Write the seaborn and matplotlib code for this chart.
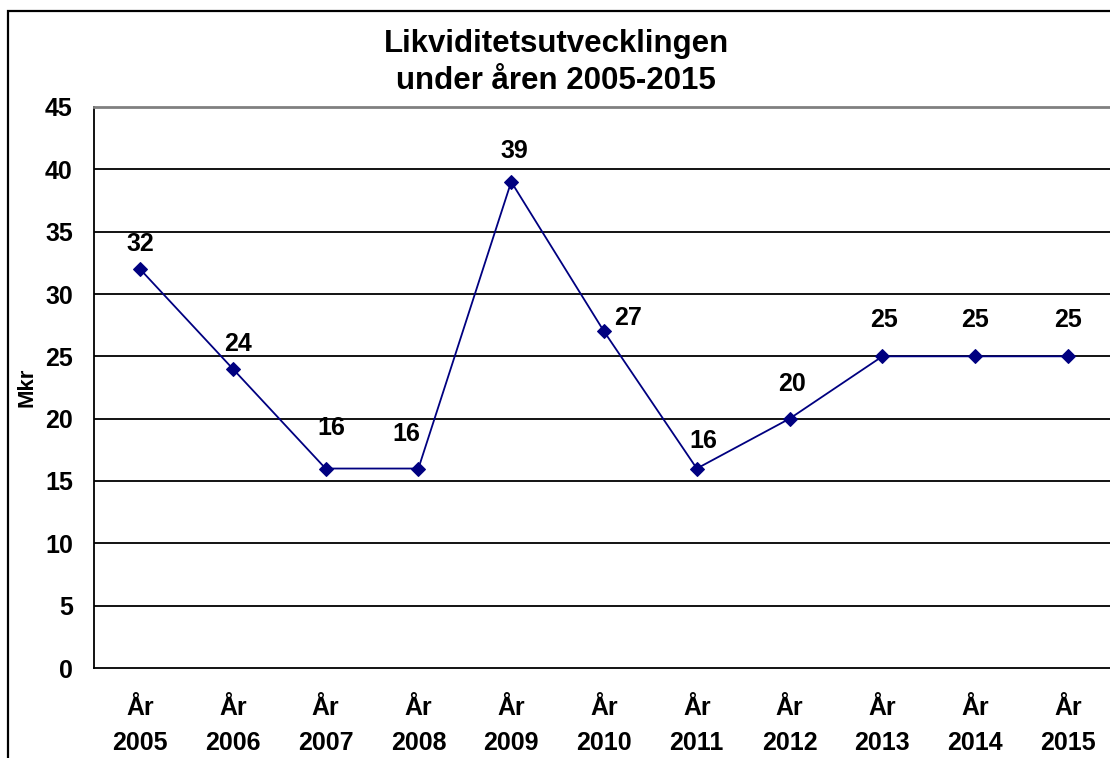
import matplotlib
matplotlib.use("Agg")
import matplotlib.pyplot as plt
import seaborn as sns
import pandas as pd
from matplotlib.patches import Rectangle
from matplotlib.ticker import FixedLocator

# data
years = ["2005", "2006", "2007", "2008", "2009", "2010", "2011", "2012", "2013", "2014", "2015"]
values = [32, 24, 16, 16, 39, 27, 16, 20, 25, 25, 25]
tick_labels = ["År\n" + y for y in years]
# where Excel put each data label, offset from the marker in points (dx, dy)
label_offsets = [(0, 18), (4, 18), (4, 29), (-9, 25), (2, 22), (17, 10), (5, 20), (2, 25), (1, 26), (0, 26), (0, 26)]

sns.set_style("white")
plt.rcParams["font.family"] = ["Liberation Sans", "DejaVu Sans"]
plt.rcParams["font.weight"] = "bold"
plt.rcParams["text.color"] = "black"
plt.rcParams["axes.labelcolor"] = "black"
plt.rcParams["xtick.color"] = "black"
plt.rcParams["ytick.color"] = "black"

df = pd.DataFrame({"pos": range(len(years)), "Mkr": values})

fig = plt.figure(figsize=(11.10, 7.58), dpi=100)
ax = fig.add_axes([93.6 / 1110, 90 / 758, 1020.8 / 1110, 561 / 758])

sns.lineplot(data=df, x="pos", y="Mkr", ax=ax, color="#000080", linewidth=1.3,
             marker="D", markersize=7.5, markeredgecolor="#000080")

for i, v in enumerate(values):
    dx, dy = label_offsets[i]
    ax.annotate(str(v), (i, v), xytext=(dx, dy), textcoords="offset points",
                ha="center", va="center", fontsize=18, fontweight="bold", color="black")

ax.set_xlim(-0.5, len(years) - 0.5)
ax.set_ylim(0, 45)
ax.set_yticks(range(0, 46, 5))
ax.set_yticklabels([str(t) for t in range(0, 46, 5)], fontsize=18, fontweight="bold")
ax.set_xticks(range(len(years)))
ax.set_xticklabels(tick_labels, fontsize=18, fontweight="bold", linespacing=1.6)
ax.xaxis.set_minor_locator(FixedLocator([i - 0.5 for i in range(len(years) + 1)]))
ax.tick_params(axis="x", which="major", length=0, pad=20)
ax.tick_params(axis="x", which="minor", length=6, width=1.3, color="black", direction="out")
ax.tick_params(axis="y", length=6, width=1.3, color="black", direction="out", pad=9)

for y in range(5, 45, 5):
    ax.axhline(y, color="black", linewidth=1.3, zorder=0)

ax.set_xlabel("")
ax.set_ylabel("Mkr", fontsize=16, fontweight="bold")
ax.yaxis.set_label_coords(-0.055, 0.5)
for side in ["left", "bottom"]:
    ax.spines[side].set_color("black")
    ax.spines[side].set_linewidth(1.3)
ax.spines["top"].set_color("#808080")
ax.spines["top"].set_linewidth(2)
ax.spines["right"].set_visible(False)

fig.text(0.501, 0.918, "Likviditetsutvecklingen\nunder åren 2005-2015", ha="center", va="center",
         fontsize=22.5, fontweight="bold", linespacing=1.3)

fig.patches.append(Rectangle((8 / 1110, -0.2), 1.2, 0.2 + (758 - 11) / 758, transform=fig.transFigure,
                             fill=False, edgecolor="black", linewidth=1.6))

fig.savefig("out.png", dpi=100)
